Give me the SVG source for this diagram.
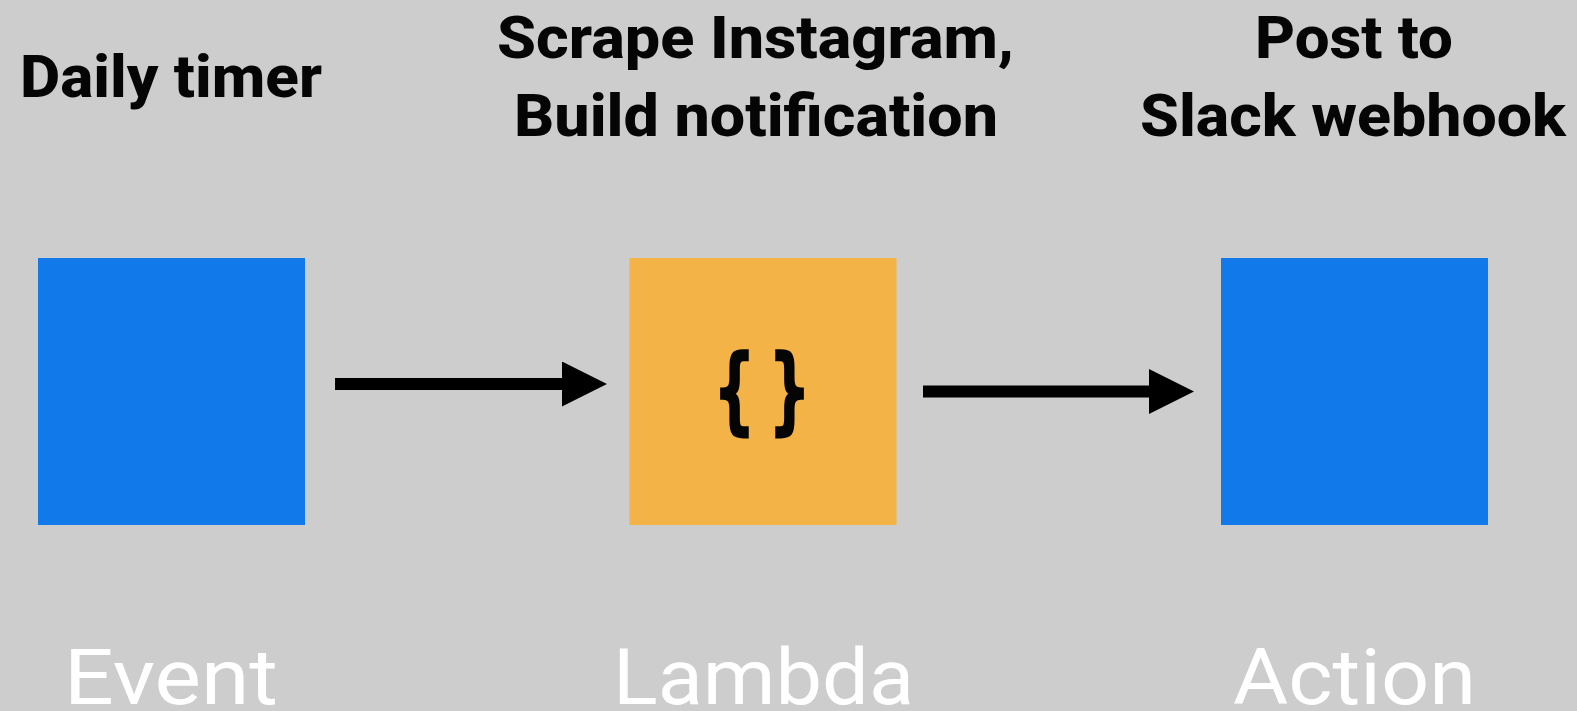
<svg xmlns="http://www.w3.org/2000/svg" width="1577" height="711" viewBox="0 0 1577 711">
<style>
.t{font-family:"Roboto","Liberation Sans",sans-serif;font-weight:800;font-size:60px;fill:#050505}
.l{font-family:"Roboto","Liberation Sans",sans-serif;font-weight:400;font-size:78px;fill:#fff}
.b{font-family:"DejaVu Sans Mono",monospace;font-weight:700;font-size:92px;fill:#050505;stroke:#050505;stroke-width:3.5}
.c{stroke:#000;stroke-width:12;fill:none;marker-end:url(#a)}
</style>
<defs><marker id="a" markerUnits="userSpaceOnUse" markerWidth="45" markerHeight="45" refX="0" refY="22.5" orient="auto"><path d="M0 0L45 22.5L0 45Z" fill="#000"/></marker></defs>
<rect width="1577" height="711" fill="#cdcdcd"/>
<g id="event"><rect x="38" y="258" width="267" height="267" fill="#1279ea"/><text class="t" x="20" y="97" textLength="302" lengthAdjust="spacingAndGlyphs">Daily timer</text><text class="l" x="64" y="704" textLength="214" lengthAdjust="spacingAndGlyphs">Event</text></g>
<g id="lambda"><rect x="629.5" y="258" width="267" height="267" fill="#f3b346"/><text class="b" x="716" y="422" textLength="37" lengthAdjust="spacingAndGlyphs">{</text><text class="b" x="771" y="422" textLength="37" lengthAdjust="spacingAndGlyphs">}</text><text class="t" x="497" y="58" textLength="517" lengthAdjust="spacingAndGlyphs">Scrape Instagram,</text><text class="t" x="514" y="136" textLength="484" lengthAdjust="spacingAndGlyphs">Build notification</text><text class="l" x="613" y="704" textLength="301" lengthAdjust="spacingAndGlyphs">Lambda</text></g>
<g id="action"><rect x="1221" y="258" width="267" height="267" fill="#1279ea"/><text class="t" x="1255" y="58" textLength="198" lengthAdjust="spacingAndGlyphs">Post to</text><text class="t" x="1140" y="136" textLength="426" lengthAdjust="spacingAndGlyphs">Slack webhook</text><text class="l" x="1233" y="704" textLength="243" lengthAdjust="spacingAndGlyphs">Action</text></g>
<g id="connectors"><path class="c" d="M335 384H562"/><path class="c" d="M923 391.5H1149"/></g>
</svg>
